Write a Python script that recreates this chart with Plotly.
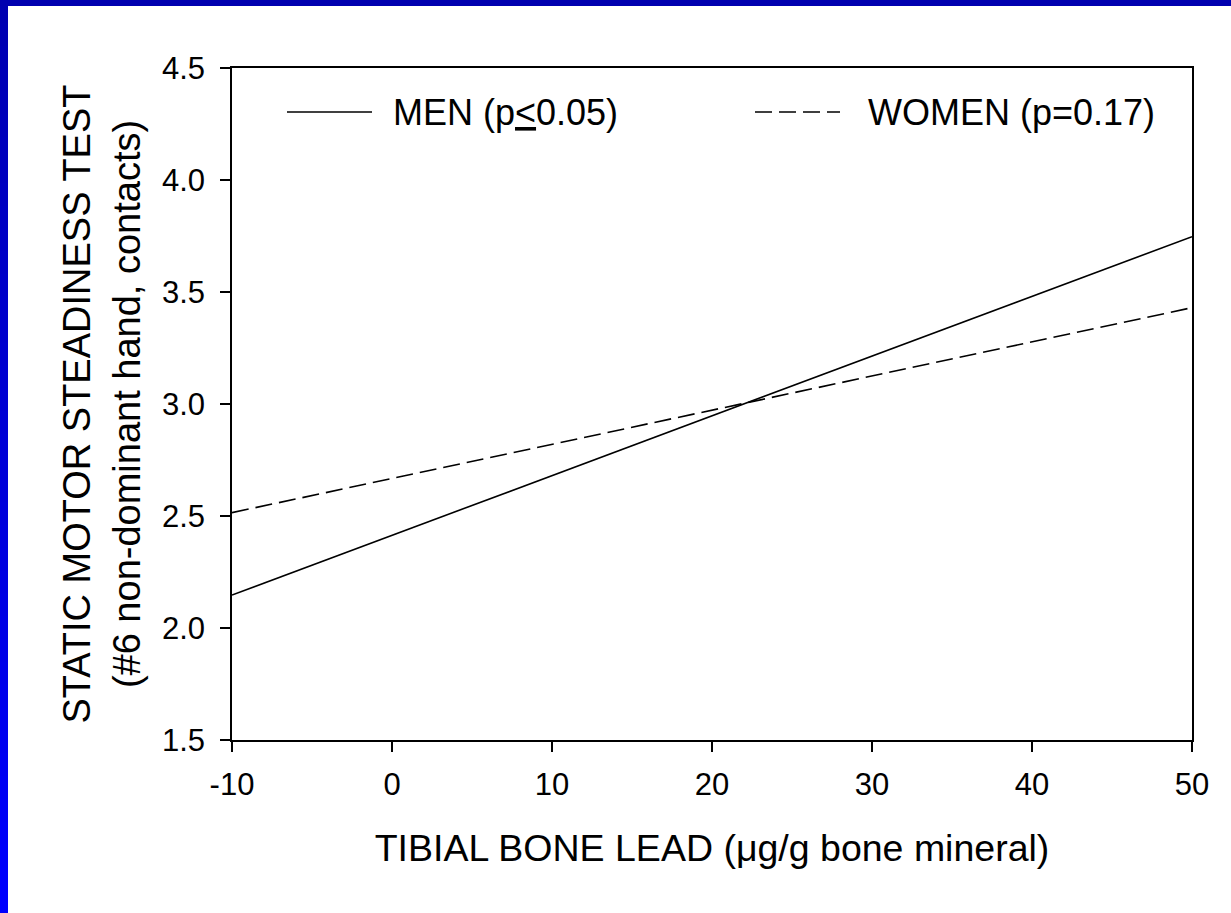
import plotly.graph_objects as go

# Regression lines: static motor steadiness vs tibial bone lead
lead_ug_g = [-10, 50]
men_contacts = [2.147, 3.747]
women_contacts = [2.515, 3.430]

x_ticks = [-10, 0, 10, 20, 30, 40, 50]
y_ticks = [1.5, 2.0, 2.5, 3.0, 3.5, 4.0, 4.5]

legend_labels = ["MEN (p<u>&lt;</u>0.05)", "WOMEN (p=0.17)"]

W, H = 1231, 913
ML, MR, MT, MB = 232, 39, 68, 173
PW, PH = W - ML - MR, H - MT - MB

FONT = "Liberation Sans, Arial, sans-serif"


def px_x(px):
    return (px - ML) / PW


def px_y(py):
    return (H - MB - py) / PH


fig = go.Figure()
fig.add_trace(go.Scatter(x=lead_ug_g, y=men_contacts, mode="lines",
                         line=dict(color="black", width=1.6),
                         name=legend_labels[0], showlegend=False))
fig.add_trace(go.Scatter(x=lead_ug_g, y=women_contacts, mode="lines",
                         line=dict(color="black", width=1.6, dash="17px,7px"),
                         name=legend_labels[1], showlegend=False))

shapes = []
# blue frame: shaded left bar (overlapping bands) and top bar
n_steps = 40
for i in range(n_steps):
    y0 = H * i / n_steps
    y1 = min(H, H * (i + 1) / n_steps + 3)
    t = (i + 0.5) / n_steps
    b = int(round(176 + (255 - 176) * t))
    shapes.append(dict(type="rect", xref="paper", yref="paper",
                       x0=px_x(0), x1=px_x(8), y0=px_y(y1), y1=px_y(y0),
                       fillcolor=f"rgb(0,0,{b})", line=dict(width=0),
                       layer="below"))
shapes.append(dict(type="rect", xref="paper", yref="paper",
                   x0=px_x(0), x1=px_x(W), y0=px_y(6), y1=px_y(0),
                   fillcolor="rgb(0,0,176)", line=dict(width=0), layer="below"))

# legend samples
leg_y = px_y(112)
shapes.append(dict(type="line", xref="paper", yref="paper",
                   x0=px_x(287), x1=px_x(372), y0=leg_y, y1=leg_y,
                   line=dict(color="black", width=1.6)))
shapes.append(dict(type="line", xref="paper", yref="paper",
                   x0=px_x(755), x1=px_x(840), y0=leg_y, y1=leg_y,
                   line=dict(color="black", width=1.6, dash="17px,7px")))

annotations = [
    dict(text=legend_labels[0], xref="paper", yref="paper", x=px_x(391), y=leg_y,
         xanchor="left", yanchor="middle", showarrow=False,
         font=dict(family=FONT, size=36, color="black")),
    dict(text=legend_labels[1], xref="paper", yref="paper", x=px_x(866), y=leg_y,
         xanchor="left", yanchor="middle", showarrow=False,
         font=dict(family=FONT, size=36, color="black")),
]

axis_common = dict(showline=True, linecolor="black", linewidth=1.6, mirror=True,
                   ticks="outside", ticklen=10, tickwidth=1.6, tickcolor="black",
                   showgrid=False, zeroline=False,
                   tickfont=dict(family=FONT, size=31, color="black"))

fig.update_layout(
    width=W, height=H,
    margin=dict(l=ML, r=MR, t=MT, b=MB),
    paper_bgcolor="white", plot_bgcolor="white",
    shapes=shapes, annotations=annotations,
    xaxis=dict(range=[-10, 50], tickvals=x_ticks,
               ticktext=[str(v) for v in x_ticks],
               ticklabelstandoff=6,
               title=dict(text="TIBIAL BONE LEAD (μg/g bone mineral)",
                          font=dict(family=FONT, size=37.5, color="black"),
                          standoff=34),
               **axis_common),
    yaxis=dict(range=[1.5, 4.5], tickvals=y_ticks,
               ticktext=[f"{v:.1f}" for v in y_ticks],
               ticklabelstandoff=9,
               title=dict(text="STATIC MOTOR STEADINESS TEST<br>(#6 non-dominant hand, contacts)",
                          font=dict(family=FONT, size=38, color="black"),
                          standoff=10),
               **axis_common),
)

fig.write_html("out.html")
